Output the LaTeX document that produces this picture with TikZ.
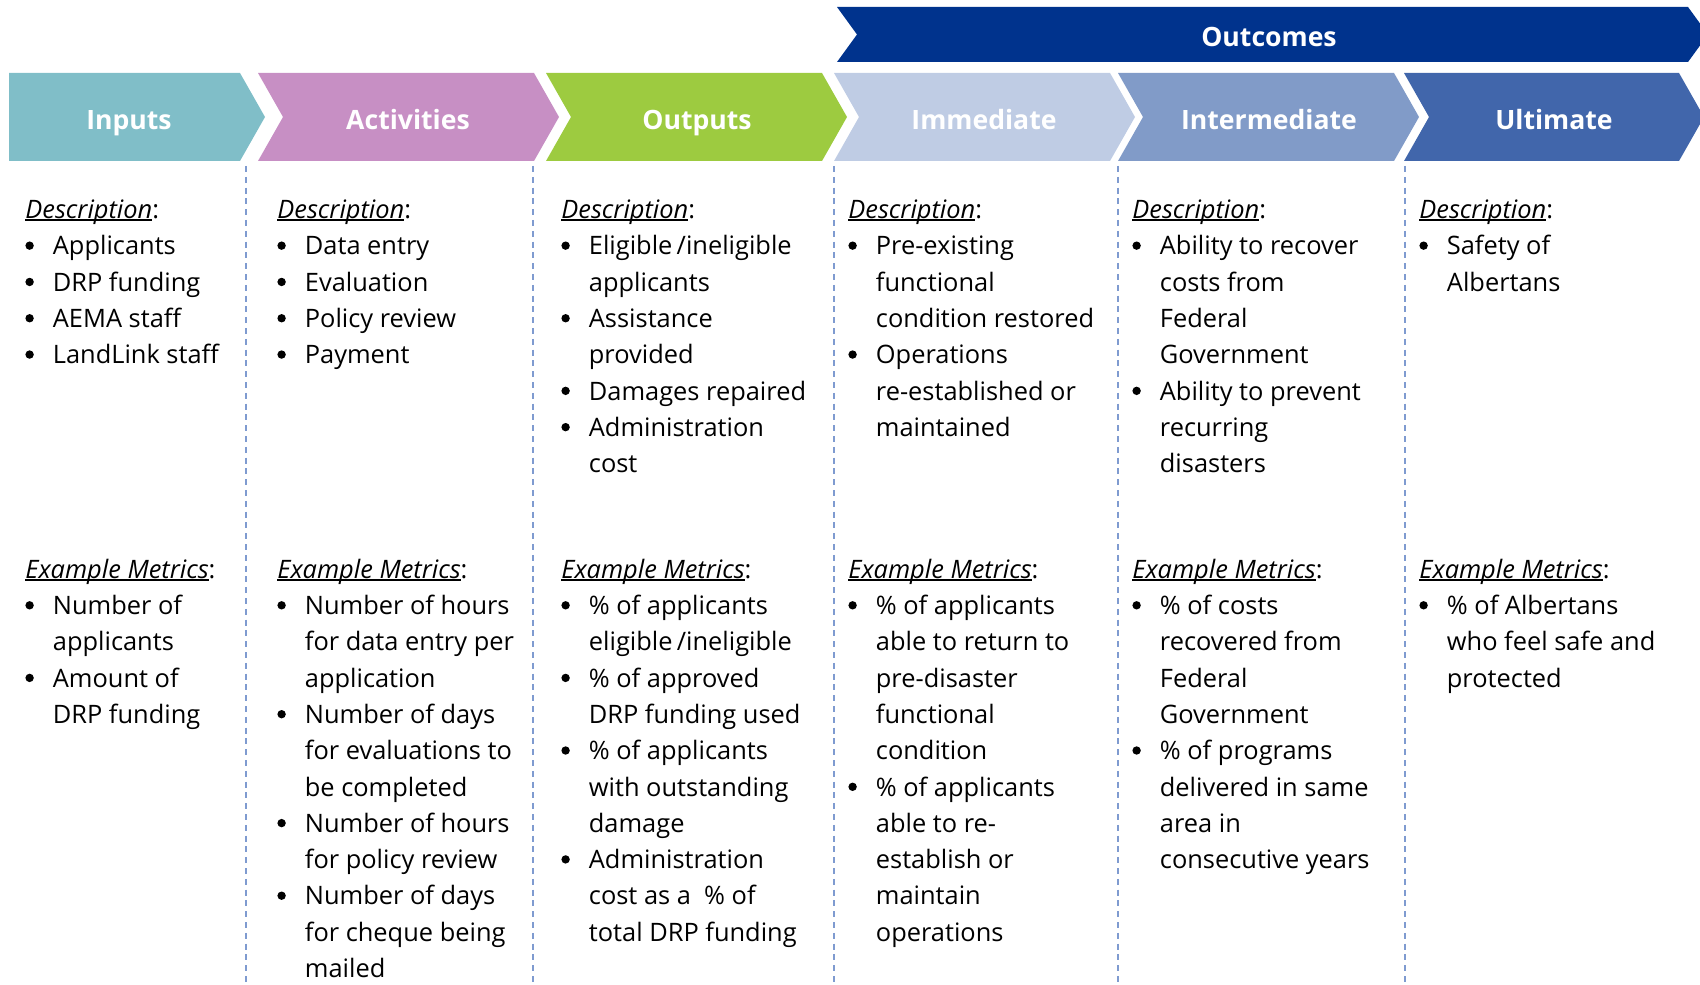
\documentclass[tikz,border=0pt]{standalone}
\usepackage{fontspec}
\setmainfont{Open Sans}
\usetikzlibrary{positioning}

\definecolor{inputcol}{RGB}{128,190,200}
\definecolor{activcol}{RGB}{199,143,196}
\definecolor{outputcol}{RGB}{157,203,64}
\definecolor{immedcol}{RGB}{191,204,228}
\definecolor{intercol}{RGB}{129,155,200}
\definecolor{ultcol}{RGB}{65,102,171}
\definecolor{outcomecol}{RGB}{0,51,141}
\definecolor{sepcol}{RGB}{127,155,208}

\newcommand\bodyfont{\fontsize{12.7pt}{18.15pt}\selectfont}
\newcommand\headfont{\fontsize{13.3pt}{16pt}\selectfont\bfseries}
\newsavebox\hdrbox
\newcommand\hdr[1]{\sbox\hdrbox{\textit{#1}}\rlap{\rule[-1.3pt]{\wd\hdrbox}{0.9pt}}\usebox\hdrbox:}
\newcommand\bul{\makebox[13.75pt][l]{\tikz[baseline=-4.6pt]\fill (0,0) circle (2.1pt);}}
\newcommand\cont{\hspace*{13.75pt}}

\tikzset{every picture/.style={line width=0.75pt}}

\begin{document}
\begin{tikzpicture}[x=0.5pt,y=0.5pt,yscale=-1,
  colbody/.style={anchor=north west,inner sep=0pt,align=left,font=\bodyfont,
    execute at begin node={\rule{0pt}{12pt}}},
  chevlabel/.style={text=white,font=\headfont,inner sep=0pt,anchor=base},
  sepline/.style={draw=sepcol,line width=1pt,dash pattern={on 3pt off 2.4pt}}]
\useasboundingbox (0,0) rectangle (1700,984);
\clip (0,0) rectangle (1700,984);

%Banner [Outcomes]
\fill[outcomecol] (837,7) -- (1688,7) -- (1708,34.5) -- (1688,62) -- (837,62) -- (857,34.5) -- cycle;
\node[chevlabel] (outcomes) at (1269,47) {Outcomes};

%Chevron [Inputs]
\fill[inputcol] (9,73) -- (240,73) -- (265,117) -- (240,161) -- (9,161) -- cycle;
%Chevron [Activities]
\fill[activcol] (258,73) -- (534,73) -- (559,117) -- (534,161) -- (258,161) -- (283,117) -- cycle;
%Chevron [Outputs]
\fill[outputcol] (546,73) -- (822,73) -- (847,117) -- (822,161) -- (546,161) -- (571,117) -- cycle;
%Chevron [Immediate]
\fill[immedcol] (834,73) -- (1110,73) -- (1135,117) -- (1110,161) -- (834,161) -- (859,117) -- cycle;
%Chevron [Intermediate]
\fill[intercol] (1118,73) -- (1394,73) -- (1419,117) -- (1394,161) -- (1118,161) -- (1143,117) -- cycle;
%Chevron [Ultimate]
\fill[ultcol] (1404,73) -- (1679,73) -- (1704,117) -- (1679,161) -- (1404,161) -- (1429,117) -- cycle;

% Text Node
\node[chevlabel] (inputs) at (129,129.5) {Inputs};
% Text Node
\node[chevlabel] (activities) at (408,129.5) {Activities};
% Text Node
\node[chevlabel] (outputs) at (697,129.5) {Outputs};
% Text Node
\node[chevlabel] (immediate) at (984,129.5) {Immediate};
% Text Node
\node[chevlabel] (intermediate) at (1269,129.5) {Intermediate};
% Text Node
\node[chevlabel] (ultimate) at (1554,129.5) {Ultimate};

%Dashed Lines
\draw[sepline] (246,166) -- (246,984);
\draw[sepline] (533,166) -- (533,984);
\draw[sepline] (834,166) -- (834,984);
\draw[sepline] (1118,166) -- (1118,984);
\draw[sepline] (1405,166) -- (1405,984);

% Inputs column
\node[colbody] (inDesc) at (25,199.5) {\hdr{Description}\\
  \bul Applicants\\ \bul DRP funding\\ \bul AEMA staff\\ \bul LandLink staff};
\node[colbody] (inMetrics) at (25,558.5) {\hdr{Example Metrics}\\
  \bul Number of\\ \cont applicants\\ \bul Amount of\\ \cont DRP funding};

% Activities column
\node[colbody] (actDesc) at (277,199.5) {\hdr{Description}\\
  \bul Data entry\\ \bul Evaluation\\ \bul Policy review\\ \bul Payment};
\node[colbody] (actMetrics) at (277,558.5) {\hdr{Example Metrics}\\
  \bul Number of hours\\ \cont for data entry per\\ \cont application\\
  \bul Number of days\\ \cont for evaluations to\\ \cont be completed\\
  \bul Number of hours\\ \cont for policy review\\
  \bul Number of days\\ \cont for cheque being\\ \cont mailed};

% Outputs column
\node[colbody] (outDesc) at (561,199.5) {\hdr{Description}\\
  \bul Eligible\,/ineligible\\ \cont applicants\\
  \bul Assistance\\ \cont provided\\
  \bul Damages repaired\\
  \bul Administration\\ \cont cost};
\node[colbody] (outMetrics) at (561,558.5) {\hdr{Example Metrics}\\
  \bul \% of applicants\\ \cont eligible\,/ineligible\\
  \bul \% of approved\\ \cont DRP funding used\\
  \bul \% of applicants\\ \cont with outstanding\\ \cont damage\\
  \bul Administration\\ \cont cost as a \ \% of\\ \cont total DRP funding};

% Immediate column
\node[colbody] (immDesc) at (848,199.5) {\hdr{Description}\\
  \bul Pre-existing\\ \cont functional\\ \cont condition restored\\
  \bul Operations\\ \cont re-established or\\ \cont maintained};
\node[colbody] (immMetrics) at (848,558.5) {\hdr{Example Metrics}\\
  \bul \% of applicants\\ \cont able to return to\\ \cont pre-disaster\\ \cont functional\\ \cont condition\\
  \bul \% of applicants\\ \cont able to re-\\ \cont establish or\\ \cont maintain\\ \cont operations};

% Intermediate column
\node[colbody] (intDesc) at (1132,199.5) {\hdr{Description}\\
  \bul Ability to recover\\ \cont costs from\\ \cont Federal\\ \cont Government\\
  \bul Ability to prevent\\ \cont recurring\\ \cont disasters};
\node[colbody] (intMetrics) at (1132,558.5) {\hdr{Example Metrics}\\
  \bul \% of costs\\ \cont recovered from\\ \cont Federal\\ \cont Government\\
  \bul \% of programs\\ \cont delivered in same\\ \cont area in\\ \cont consecutive years};

% Ultimate column
\node[colbody] (ultDesc) at (1419,199.5) {\hdr{Description}\\
  \bul Safety of\\ \cont Albertans};
\node[colbody] (ultMetrics) at (1419,558.5) {\hdr{Example Metrics}\\
  \bul \% of Albertans\\ \cont who feel safe and\\ \cont protected};
\end{tikzpicture}
\end{document}
